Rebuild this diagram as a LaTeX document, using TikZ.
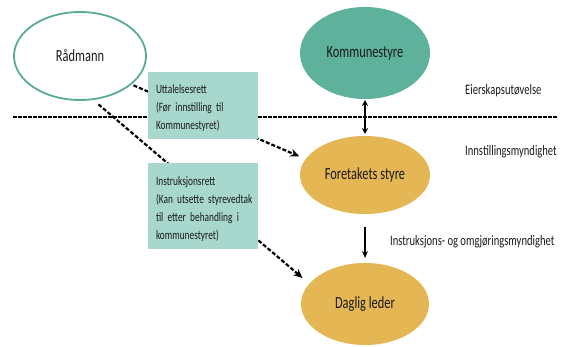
\documentclass[tikz,border=0pt]{standalone}
\usepackage{fontspec}
\setmainfont{Carlito}[FakeStretch=0.73]
\usetikzlibrary{arrows.meta,shapes.geometric}
\definecolor{tealline}{HTML}{5AAB96}
\definecolor{tealfill}{HTML}{5EB29C}
\definecolor{goldfill}{HTML}{E4B654}
\definecolor{boxfill}{HTML}{A8D7CD}
\definecolor{txt}{HTML}{1A1A1A}
\hyphenpenalty=10000
\exhyphenpenalty=10000
\newcommand\topstrut{\rule{0pt}{15pt}}
\begin{document}
\begin{tikzpicture}[x=1pt,y=-1pt,
  ell/.style={ellipse, inner sep=0pt, outer sep=0pt, text=txt, font=\fontsize{17}{20}\selectfont},
  boxnode/.style={rectangle, fill=boxfill, minimum width=110pt, text width=94pt, align=left,
     inner xsep=8pt, inner ysep=0pt, text=txt, font=\fontsize{12.8}{18}\selectfont},
  lbl/.style={inner sep=0pt, anchor=west, text=txt, font=\fontsize{14.5}{17}\selectfont},
  divline/.style={line width=2.4pt, dash pattern=on 3.5pt off 1.5pt},
  darr/.style={line width=2.2pt, dash pattern=on 4pt off 2pt, -{Stealth[length=9pt,width=8pt]}},
  sarr/.style={line width=1.4pt}
]
\useasboundingbox (0,0) rectangle (563,347);
\node[ell, draw=tealline, line width=1.8pt, fill=white, minimum width=132pt, minimum height=88pt] (rad) at (80,56) {Rådmann};
\node[ell, fill=tealfill, minimum width=130pt, minimum height=92pt] (ks) at (365,53) {Kommunestyre};
\node[ell, fill=goldfill, minimum width=130pt, minimum height=78pt] (fs) at (365,175) {Foretakets styre};
\node[ell, fill=goldfill, minimum width=128pt, minimum height=82pt] (dl) at (365,304) {Daglig leder};

\coordinate (hl) at (13,117);
\coordinate (hr) at (557,117);
\draw[divline] (hl) -- (hr);

\draw[darr, shorten <=3pt, shorten >=7pt] (rad.-29.5) -- (fs.165);
\draw[darr, shorten <=8pt, shorten >=9pt] (rad.-74) -- (dl.160);

\draw[sarr, {Stealth[length=6pt,width=6pt]}-{Stealth[length=6pt,width=6pt]}, shorten <=1pt, shorten >=2pt] (ks.south) -- (fs.north);
\draw[sarr, -{Stealth[length=7pt,width=6pt]}, shorten <=13pt, shorten >=5pt] (fs.south) -- (dl.north);

\node[boxnode, minimum height=67pt] (b1) at (203,105.5) {\topstrut Uttalelsesrett\\(Før innstilling til\\Kommunestyret)};
\node[boxnode, minimum height=86pt] (b2) at (203,206) {\topstrut Instruksjonsrett\\\mbox{(Kan utsette styrevedtak}\\til etter behandling i\\kommunestyret)};

\node[lbl] (l1) at (465,91) {Eierskapsutøvelse};
\node[lbl] (l2) at (465,152) {Innstillingsmyndighet};
\node[lbl] (l3) at (390,242) {Instruksjons- og omgjøringsmyndighet};
\end{tikzpicture}
\end{document}
